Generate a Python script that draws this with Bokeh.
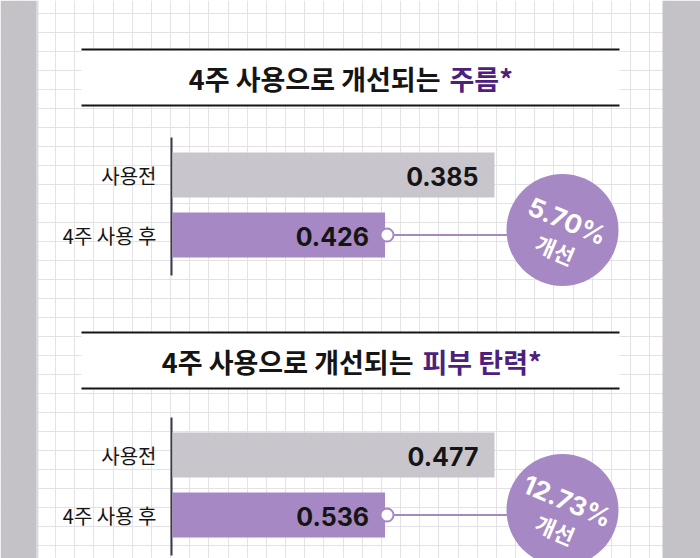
from bokeh.plotting import figure
from bokeh.models import Range1d, FixedTicker
from bokeh.core.properties import value
from bokeh.embed import file_html
from bokeh.resources import INLINE

W, H = 700, 558

# ---- data ----
categories = ["사용전", "4주 사용 후"]
title_lead = ["4주 사용으로 개선되는", "4주 사용으로 개선되는"]
title_topic = ["주름*", "피부 탄력*"]
before_values = [0.385, 0.477]
after_values = [0.426, 0.536]
improvement = ["5.70%", "12.73%"]
improve_word = ["개선", "개선"]
# displayed bar lengths (relative, as drawn in the infographic)
before_bar_len = [1.0, 1.0]
after_bar_len = [0.66, 0.66]

# ---- styles / layout ----
KFONT = value("Noto Sans CJK KR")
NFONT = value("Inter")
GRAY_BAND = "#c4c2c7"
GRID = "#e4e1e7"
BAR_GRAY = "#c9c5cc"
PURPLE = "#a688c4"
DEEP_PURPLE = "#4e1f7e"
INK = "#151515"

panel_title_top = [49, 332]
panel_bar_top = [152, 432]
bar_x0 = 172
bar_full = 322
bar_h = 45
bar_gap = 15
circle_x = 562
circle_r = 56
ANG = -0.4

p = figure(width=W, height=H, x_range=Range1d(0, W), y_range=Range1d(H, 0),
           output_backend="svg", toolbar_location=None, min_border=0,
           outline_line_color=None)
p.xaxis.visible = False
p.yaxis.visible = False
p.background_fill_color = "white"
p.border_fill_color = "white"
p.xgrid.ticker = FixedTicker(ticks=[16.7 + 19.17 * k for k in range(-1, 38)])
p.ygrid.ticker = FixedTicker(ticks=[13.3 + 19.0 * k for k in range(-1, 31)])
p.xgrid.grid_line_color = GRID
p.ygrid.grid_line_color = GRID
p.xgrid.grid_line_width = 1
p.ygrid.grid_line_width = 1

# side gray bands
p.quad(left=[0, 662], right=[36, W], top=[0, 0], bottom=[H, H],
       fill_color=GRAY_BAND, line_color=None)
p.quad(left=[36], right=[38], top=[0], bottom=[H], fill_color="#dddbe0", line_color=None)

for i in range(2):
    ty = panel_title_top[i]
    # title band
    p.quad(left=[81], right=[619], top=[ty], bottom=[ty + 56],
           fill_color="white", line_color=None)
    p.segment(x0=[81, 81], x1=[619, 619], y0=[ty, ty + 56], y1=[ty, ty + 56],
              line_color=INK, line_width=2)
    split_x = 440 if i == 0 else 413
    p.text(x=[split_x], y=[ty + 29], text=[title_lead[i]], text_align="right",
           text_baseline="middle", text_font=KFONT, text_font_size="27px",
           text_font_style="bold", text_color=INK)
    p.text(x=[split_x + 9], y=[ty + 29], text=[title_topic[i]], text_align="left",
           text_baseline="middle", text_font=KFONT, text_font_size="27px",
           text_font_style="bold", text_color=DEEP_PURPLE)

    by = panel_bar_top[i]
    y_before = by + bar_h / 2
    y_after = by + bar_h + bar_gap + bar_h / 2
    r_before = bar_x0 + bar_full * before_bar_len[i]
    r_after = bar_x0 + bar_full * after_bar_len[i]

    # axis line
    p.segment(x0=[bar_x0 - 1], x1=[bar_x0 - 1], y0=[by - 15], y1=[by + 2 * bar_h + bar_gap + 18],
              line_color="#3d3848", line_width=2)
    # bars
    p.hbar(y=[y_before], left=[bar_x0], right=[r_before], height=bar_h,
           fill_color=BAR_GRAY, line_color=None)
    p.hbar(y=[y_after], left=[bar_x0], right=[r_after], height=bar_h,
           fill_color=PURPLE, line_color=None)
    # category labels
    p.text(x=[156, 156], y=[y_before, y_after], text=categories, text_align="right",
           text_baseline="middle", text_font=KFONT, text_font_size="20px",
           text_color=INK)
    # value labels
    p.text(x=[r_before - 16, r_after - 16], y=[y_before + 1, y_after + 1],
           text=[f"{before_values[i]:.3f}", f"{after_values[i]:.3f}"],
           text_align="right", text_baseline="middle", text_font=NFONT,
           text_font_size="25px", text_font_style="bold", text_color=INK)
    # connector
    cy = y_after - 5
    p.segment(x0=[r_after + 2], x1=[circle_x], y0=[y_after], y1=[y_after],
              line_color=PURPLE, line_width=2)
    p.scatter(x=[r_after + 2], y=[y_after], size=13, fill_color="white",
              line_color=PURPLE, line_width=2)
    p.circle(x=[circle_x], y=[cy], radius=circle_r, fill_color=PURPLE, line_color=None)
    p.text(x=[circle_x + 5], y=[cy - 9], text=[improvement[i]], angle=ANG,
           text_align="center", text_baseline="middle", text_font=NFONT,
           text_font_size="26px", text_font_style="bold", text_color="white")
    p.text(x=[circle_x - 7], y=[cy + 19], text=[improve_word[i]], angle=ANG,
           text_align="center", text_baseline="middle", text_font=KFONT,
           text_font_size="22px", text_font_style="bold", text_color="white")

open("out.html", "w").write(file_html(p, INLINE))
